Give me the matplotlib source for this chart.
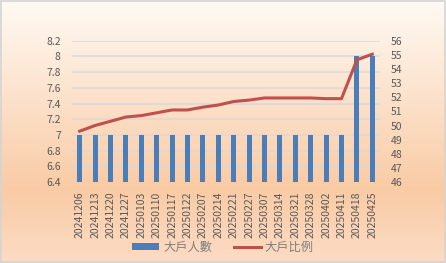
import numpy as np
import matplotlib.pyplot as plt
from matplotlib.colors import LinearSegmentedColormap
from matplotlib.patches import Rectangle
from matplotlib.ticker import FuncFormatter

plt.rcParams['font.family'] = ['Noto Sans CJK TC', 'DejaVu Sans']

dates = ['20241206', '20241213', '20241220', '20241227', '20250103', '20250110',
         '20250117', '20250122', '20250207', '20250214', '20250221', '20250227',
         '20250307', '20250314', '20250321', '20250328', '20250402', '20250411',
         '20250418', '20250425']
holders = [7, 7, 7, 7, 7, 7, 7, 7, 7, 7, 7, 7, 7, 7, 7, 7, 7, 7, 8, 8]
ratio = [49.6, 50.0, 50.3, 50.6, 50.7, 50.9, 51.1, 51.1, 51.3, 51.45,
         51.7, 51.8, 51.95, 51.95, 51.95, 51.95, 51.9, 51.9, 54.65, 55.05]

grey = '#595959'
fig = plt.figure(figsize=(4.46, 2.63), dpi=100)

# background gradient
bg = fig.add_axes([0, 0, 1, 1], zorder=-10)
cmap = LinearSegmentedColormap.from_list(
    'bg', [(0, '#fffaf4'), (0.72, '#f9cba5'), (1.0, '#fcdcc4')])
bg.imshow(np.linspace(0, 1, 256).reshape(-1, 1), aspect='auto', cmap=cmap,
          extent=[0, 1, 0, 1])
bg.add_patch(Rectangle((0.003, 0.005), 0.994, 0.99, fill=False,
                       edgecolor='#d4d4d4', lw=1.2, transform=bg.transAxes))
bg.axis('off')

ax = fig.add_axes([0.1614, 0.308, 0.6906, 0.537])
ax.patch.set_alpha(0)
x = np.arange(len(dates))
ax.bar(x, holders, width=0.33, color='#4a7ebb', zorder=3, label='大戶人數')
ax.set_ylim(6.4, 8.2)
ax.set_yticks(np.arange(6.4, 8.21, 0.2))
ax.yaxis.set_major_formatter(FuncFormatter(lambda v, p: '%g' % round(v, 1)))
ax.set_xlim(-0.5, len(dates) - 0.5)
ax.set_xticks(x)
ax.set_xticklabels(dates, rotation=90)
ax.grid(axis='y', color='#d9d9d9', lw=1.1, zorder=0)
ax.tick_params(axis='both', length=0, labelsize=7.5, labelcolor=grey)
ax.tick_params(axis='y', pad=8)
ax.tick_params(axis='x', pad=7)
for s in ax.spines.values():
    s.set_visible(False)

ax2 = ax.twinx()
ax2.plot(x, ratio, color='#c0504d', lw=2.2, zorder=4, label='大戶比例')
ax2.set_ylim(46, 56)
ax2.set_yticks(range(46, 57))
ax2.tick_params(axis='y', length=0, labelsize=7.5, labelcolor=grey, pad=8)
for s in ax2.spines.values():
    s.set_visible(False)

h1, l1 = ax.get_legend_handles_labels()
h2, l2 = ax2.get_legend_handles_labels()
leg = fig.legend(h1 + h2, l1 + l2, loc='center', bbox_to_anchor=(0.5, 0.058),
                 ncol=2, frameon=False, fontsize=8.8, handlelength=2.2,
                 handleheight=0.5, columnspacing=1.8, handletextpad=0.3)
for t in leg.get_texts():
    t.set_color('#7f7f7f')

fig.savefig('out.png', dpi=100)
